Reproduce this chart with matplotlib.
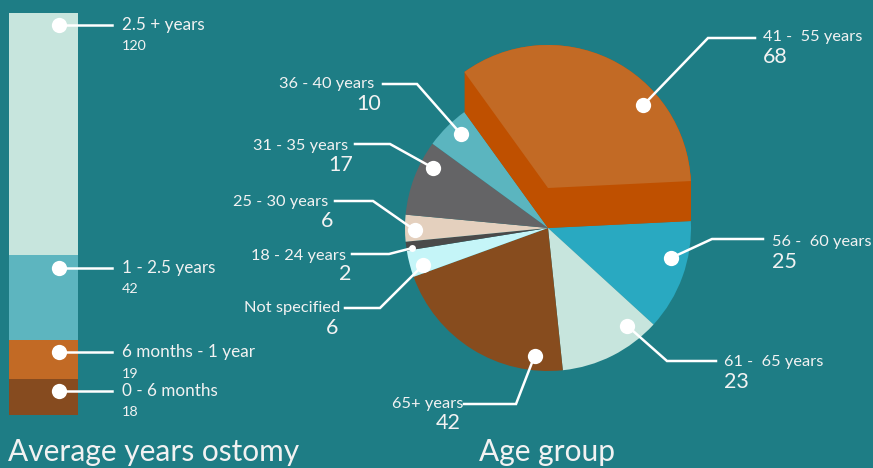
import matplotlib
matplotlib.use("Agg")
import matplotlib.pyplot as plt
from matplotlib.patches import Wedge
import numpy as np

plt.rcParams['font.family'] = ['Lato', 'DejaVu Sans']

BG = '#1E7D85'
TXT = '#F2F2F2'

# --- data ---
bar_labels = ['0 - 6 months', '6 months - 1 year', '1 - 2.5 years', '2.5 + years']
bar_values = [18, 19, 42, 120]
bar_colors = ['#864B1F', '#C26A25', '#5DB5BF', '#C7E5DD']

age_labels = ['41 -  55 years', '56 -  60 years', '61 -  65 years', '65+ years',
              'Not specified', '18 - 24 years', '25 - 30 years', '31 - 35 years',
              '36 - 40 years']
age_values = [68, 25, 23, 42, 6, 2, 6, 17, 10]
age_colors = ['#C26A25', '#29A9C1', '#C7E5DD', '#874C1E', '#C5F5F8',
              '#4A4A4A', '#E4D0BE', '#646466', '#5BB5BF']
side_color = '#BF5000'

W, H = 873, 468
fig = plt.figure(figsize=(W / 100, H / 100), dpi=100, facecolor=BG)

# main canvas in pixel units (y up)
ax = fig.add_axes([0, 0, 1, 1])
ax.set_facecolor(BG)

def py(y):
    return H - y

# --- pie ---
cx, cy, R = 548, py(228), 143
lift = 40
wedges, _ = ax.pie(age_values, colors=age_colors, startangle=125.8, counterclock=False,
                   center=(cx, cy), radius=R, frame=True,
                   wedgeprops=dict(linewidth=0))
w0 = wedges[0]
wedges[0].set_facecolor(side_color)
# extruded side of the lifted slice
for s in np.linspace(0, lift, 41):
    ax.add_patch(Wedge((cx, cy + s), R, w0.theta1, w0.theta2, facecolor=side_color,
                       edgecolor='none', zorder=3))
ax.add_patch(Wedge((cx, cy + lift), R, w0.theta1, w0.theta2, facecolor=age_colors[0],
                   edgecolor='none', zorder=4))

# label layout: dot angle, dot radius frac, elbow(px), end(px), text x, ha, label y, value x, value y
layout = [
    (41, 0.88, (708, 38), (755, 38), 763, 'left', 37, 763, 57),
    (-13.7, 0.885, (712, 239), (763, 239), 772, 'left', 242, 772, 262),
    (-51, 0.88, (667, 361), (716, 361), 724, 'left', 362, 724, 382),
    (-96, 0.9, (516, 404), (464, 404), 463, 'right', 404, 461, 423),
    (-163.5, 0.91, (380, 308), (345, 308), 340, 'right', 308, 338, 328),
    (-171.6, 0.96, (389, 254), (352, 254), 346, 'right', 256, 351, 274),
    (-179, 0.93, (373, 201), (335, 201), 328, 'right', 202, 333, 221),
    (152.4, 0.91, (390, 144), (355, 144), 348, 'right', 146, 353, 165),
    (132.8, 0.9, (417, 84), (383, 84), 374, 'right', 84, 381, 104),
]
for i, (lab, val) in enumerate(zip(age_labels, age_values)):
    a, rf, el, en, tx, ha, ly, vx, vy = layout[i]
    ccy = cy + lift if i == 0 else cy
    dx = cx + rf * R * np.cos(np.radians(a))
    dy = ccy + rf * R * np.sin(np.radians(a))
    ax.plot([dx, el[0], en[0]], [dy, py(el[1]), py(en[1])], color='white', lw=1.8,
            zorder=6, solid_joinstyle='miter')
    ms = 5 if val <= 2 else 11
    ax.plot(dx, dy, 'o', color='white', ms=ms, mec='none', zorder=7)
    ax.text(tx, py(ly), lab, ha=ha, va='center', color=TXT, fontsize=11.8, zorder=8)
    ax.text(vx, py(vy), str(val), ha=ha, va='center', color=TXT, fontsize=15.5, zorder=8)

ax.set_xlim(0, W)
ax.set_ylim(0, H)
ax.set_aspect('equal')
ax.axis('off')

ax.text(479, py(461), 'Age group', ha='left', va='baseline', color=TXT, fontsize=21.5)
ax.text(8, py(461), 'Average years ostomy', ha='left', va='baseline', color=TXT, fontsize=21.5)

# --- stacked bar ---
bx = fig.add_axes([9 / W, (H - 415) / H, 69 / W, 402 / H])
bx.set_facecolor('none')
bottom = 0
tops = []
for v, c in zip(bar_values, bar_colors):
    bx.bar(0, v, width=1, bottom=bottom, color=c, linewidth=0)
    bottom += v
    tops.append(bottom)
bx.set_xlim(-0.5, 0.5)
bx.set_ylim(0, sum(bar_values))
bx.axis('off')

for lab, val, top in zip(bar_labels, bar_values, tops):
    yd = top - 6
    bx.plot([0.225, 0.993], [yd, yd], color='white', lw=1.8, clip_on=False, zorder=5)
    bx.plot(0.225, yd, 'o', color='white', ms=11, mec='none', clip_on=False, zorder=6)
    bx.text(1.138, yd, lab, ha='left', va='center', color=TXT, fontsize=12.3, clip_on=False)
    bx.text(1.138, yd - 10.5, str(val), ha='left', va='center', color=TXT, fontsize=10.3,
            clip_on=False)

fig.savefig('out.png', dpi=100, facecolor=BG)
